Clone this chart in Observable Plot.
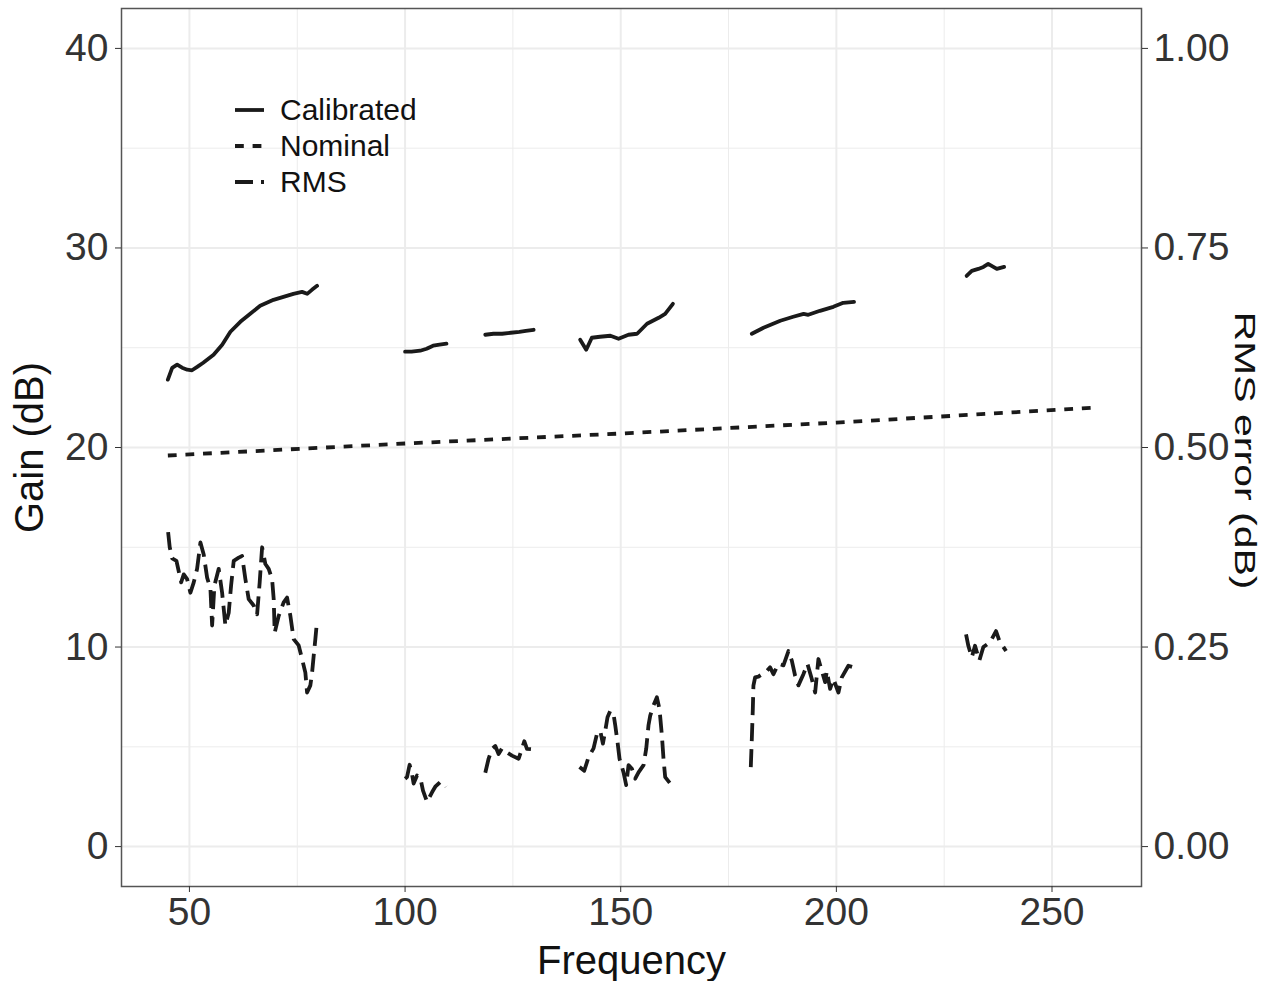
<!DOCTYPE html>
<html>
<head>
<meta charset="utf-8">
<script src="https://cdn.jsdelivr.net/npm/d3@7"></script>
<script src="https://cdn.jsdelivr.net/npm/@observablehq/plot@0.6"></script>
<style>
  html, body { margin: 0; padding: 0; background: #fff; }
  #wrap { position: relative; width: 1281px; height: 981px; font-family: "Liberation Sans", Arial, sans-serif; }
  #legend { position: absolute; left: 235px; top: 92px; }
  .row { display: flex; align-items: center; height: 36px; line-height: 36px; font-size: 30px; color: #111; }
  .row svg { margin-right: 16px; }
</style>
</head>
<body>
<div id="wrap"></div>
<script>
// ---- data ----
const xTicks = [50, 100, 150, 200, 250];
const xMinor = [75, 125, 175, 225];
const yTicks = [0, 10, 20, 30, 40];
const yMinor = [5, 15, 25, 35];
const rmsTicks = [0, 0.25, 0.5, 0.75, 1.0];
const rmsScale = 40; // secondary axis: RMS error * 40 = gain axis units

const seriesNames = ["Calibrated", "Nominal", "RMS"];

const calFreq = [45, 46, 47.15, 48.3, 49.5, 50.6, 51.8, 53.2, 55.6, 57.6, 59.5, 61.8, 64.1, 66.4, 69.5, 71.8, 74.1, 76.1, 77.3, 78.4, 79.6,
  100, 101.5, 103.5, 105, 106.5, 108, 109.6,
  118.6, 120.5, 122.5, 124.5, 126.5, 128, 129.8,
  140.6, 142, 143.3, 145.2, 147.6, 149.5, 151.8, 153.8, 156.1, 158.8, 160.3, 162.1,
  180.4, 183.1, 187, 190, 192.4, 193.5, 196.2, 199.3, 201.6, 204.1,
  230.2, 231.4, 232.9, 234.1, 235.2, 237.2, 238.9];
const calGain = [23.4, 23.99, 24.15, 24.0, 23.9, 23.87, 24.04, 24.25, 24.65, 25.15, 25.8, 26.3, 26.7, 27.1, 27.4, 27.55, 27.7, 27.8, 27.7, 27.9, 28.1,
  24.8, 24.8, 24.85, 24.95, 25.1, 25.15, 25.2,
  25.65, 25.7, 25.7, 25.75, 25.8, 25.85, 25.9,
  25.4, 24.9, 25.5, 25.55, 25.6, 25.45, 25.65, 25.7, 26.2, 26.5, 26.7, 27.2,
  25.7, 26.0, 26.35, 26.55, 26.7, 26.65, 26.85, 27.05, 27.25, 27.3,
  28.6, 28.85, 28.95, 29.05, 29.2, 28.95, 29.05];

const nomFreq = [45, 100, 150, 200, 260];
const nomGain = [19.6, 20.2, 20.7, 21.25, 22.0];

const rmsFreq = [45.06, 45.43, 45.99, 46.99, 47.52, 48.08, 48.68, 49.47, 50.23, 51.0, 51.78, 52.55, 53.31, 54.1, 54.87, 55.26, 55.79, 56.79, 57.58, 58.34,
  59.11, 59.66, 60.27, 61.43, 62.21, 62.98, 63.74, 64.9, 65.69, 66.29, 66.85, 67.61, 68.38, 69.17, 69.54, 69.77, 70.7, 71.85, 72.64, 73.41,
  74.17, 75.33, 76.12, 76.88, 77.28, 78.04, 78.44, 78.81, 79.2, 79.59,
  100.0, 100.45, 101.05, 101.6, 101.98, 102.77, 103.5, 104.16, 105.09, 106.25, 107.0, 108.17, 108.93, 109.5,
  118.6, 119.36, 120.15, 120.92, 121.68, 122.47, 123.63, 124.79, 126.32, 127.1, 127.64, 128.26, 129.19,
  140.45, 141.54, 142.54, 143.7, 144.48, 145.25, 145.87, 146.41, 146.94, 147.57, 148.33, 148.73, 149.26, 149.72, 150.65, 151.27, 151.81,
  152.6, 153.36, 154.13, 155.29, 155.91, 156.44, 156.84, 157.6, 158.39, 158.99, 159.55, 159.92, 160.31, 161.47, 162.24,
  180.16, 180.4, 180.63, 180.77, 181.16, 181.93, 183.88, 184.64, 185.41, 186.57, 187.73, 188.89, 189.67, 190.44, 191.2, 192.36, 193.29,
  194.31, 195.08, 195.84, 196.63, 197.4, 197.79, 198.55, 199.32, 200.48, 201.26, 202.79, 203.95,
  230.07, 230.6, 231.39, 232.15, 233.15, 234.08, 235.63, 237.02, 237.79, 239.34];
const rmsErr = [0.394, 0.375, 0.361, 0.358, 0.345, 0.331, 0.341, 0.335, 0.318, 0.331, 0.348, 0.381, 0.366, 0.337, 0.323, 0.277, 0.327, 0.348, 0.318, 0.277,
  0.293, 0.327, 0.358, 0.362, 0.364, 0.335, 0.31, 0.302, 0.291, 0.331, 0.375, 0.354, 0.348, 0.335, 0.31, 0.268, 0.289, 0.306, 0.312, 0.289,
  0.26, 0.252, 0.235, 0.218, 0.193, 0.202, 0.218, 0.239, 0.26, 0.283,
  0.085, 0.087, 0.1025, 0.091, 0.079, 0.089, 0.087, 0.070, 0.056, 0.068, 0.075, 0.081, 0.079, 0.075,
  0.0925, 0.11, 0.1225, 0.126, 0.116, 0.123, 0.118, 0.114, 0.11, 0.1225, 0.132, 0.1225, 0.122,
  0.0996, 0.095, 0.112, 0.123, 0.141, 0.145, 0.129, 0.145, 0.162, 0.170, 0.166, 0.152, 0.131, 0.11, 0.093, 0.077, 0.102,
  0.0975, 0.085, 0.093, 0.102, 0.1225, 0.152, 0.164, 0.177, 0.187, 0.1725, 0.139, 0.11, 0.087, 0.079, 0.087,
  0.0996, 0.135, 0.1725, 0.2016, 0.212, 0.213, 0.220, 0.2246, 0.216, 0.229, 0.227, 0.245, 0.233, 0.214, 0.202, 0.216, 0.229,
  0.21, 0.193, 0.235, 0.220, 0.206, 0.220, 0.1975, 0.21, 0.193, 0.212, 0.2266, 0.2246,
  0.266, 0.2516, 0.237, 0.2516, 0.233, 0.25, 0.256, 0.27, 0.258, 0.245];

// ---- build tables ----
function segIds(freqs) {
  let s = 0;
  return freqs.map((f, i) => (i > 0 && f - freqs[i - 1] > 5 ? ++s : s));
}
const calSeg = segIds(calFreq);
const rmsSeg = segIds(rmsFreq);
const calibrated = calFreq.map((f, i) => ({f, v: calGain[i], s: calSeg[i]}));
const nominal = nomFreq.map((f, i) => ({f, v: nomGain[i]}));
const rms = rmsFreq.map((f, i) => ({f, v: rmsErr[i] * rmsScale, s: rmsSeg[i]}));

const FONT = "'Liberation Sans', Arial, sans-serif";
const LW = 3.8;
const dashNominal = "8.8,8.8";
const dashRMS = "18,8";

const gridColor = "#ececec";
const axisColor = "#333333";
const rightTitle = "RMS error (dB)";

const plot = Plot.plot({
  width: 1281,
  height: 981,
  marginLeft: 121,
  marginRight: 140,
  marginTop: 8,
  marginBottom: 95,
  style: {fontFamily: FONT, background: "#fff", overflow: "visible"},
  x: {domain: [34.25, 270.75]},
  y: {domain: [-2, 42]},
  marks: [
    Plot.gridX(xMinor, {stroke: gridColor, strokeOpacity: 1, strokeWidth: 1}),
    Plot.gridY(yMinor, {stroke: gridColor, strokeOpacity: 1, strokeWidth: 1}),
    Plot.gridX(xTicks, {stroke: gridColor, strokeOpacity: 1, strokeWidth: 2}),
    Plot.gridY(yTicks, {stroke: gridColor, strokeOpacity: 1, strokeWidth: 2}),
    Plot.line(nominal, {x: "f", y: "v", stroke: "#1a1a1a", strokeWidth: LW, strokeDasharray: dashNominal, strokeLinecap: "butt"}),
    Plot.line(calibrated, {x: "f", y: "v", z: "s", stroke: "#1a1a1a", strokeWidth: LW, curve: "linear"}),
    Plot.line(rms, {x: "f", y: "v", z: "s", stroke: "#1a1a1a", strokeWidth: LW, strokeDasharray: dashRMS, strokeLinecap: "butt"}),
    Plot.frame({stroke: "#555", strokeWidth: 1.5}),
    Plot.axisX(xTicks, {anchor: "bottom", tickSize: 6, tickPadding: 5, fontSize: 39, color: axisColor, label: null, tickFormat: d => String(d)}),
    Plot.axisY(yTicks, {anchor: "left", tickSize: 6, tickPadding: 7, fontSize: 39, color: axisColor, label: null, tickFormat: d => String(d)}),
    Plot.axisY(rmsTicks.map(t => t * rmsScale), {anchor: "right", tickSize: 6, tickPadding: 6, fontSize: 39, color: axisColor, label: null, tickFormat: d => (d / rmsScale).toFixed(2)}),
    Plot.text(["Frequency"], {frameAnchor: "bottom", lineAnchor: "bottom", textAnchor: "middle", dy: 87, fontSize: 40, fill: "#111", text: d => d}),
    Plot.text(["Gain (dB)"], {frameAnchor: "left", lineAnchor: "middle", textAnchor: "middle", dx: -91, rotate: -90, fontSize: 40, fill: "#111", text: d => d}),
    Plot.text([rightTitle], {frameAnchor: "right", lineAnchor: "middle", textAnchor: "middle", dx: 103, dy: 3, rotate: 90, fontSize: 30, fill: "#111", text: d => d})
  ]
});

// the right-hand title in the reference is drawn with elongated glyphs
d3.select(plot).selectAll("text")
  .filter(function () { return this.textContent === rightTitle; })
  .attr("textLength", 278)
  .attr("lengthAdjust", "spacingAndGlyphs");

const wrap = document.getElementById("wrap");
wrap.appendChild(plot);

// ---- legend (inside the panel, top-left) ----
const legend = document.createElement("div");
legend.id = "legend";
const keyDash = {Calibrated: null, Nominal: dashNominal, RMS: dashRMS};
for (const name of seriesNames) {
  const row = document.createElement("div");
  row.className = "row";
  const dash = keyDash[name];
  row.innerHTML = `<svg width="29" height="36"><line x1="0" x2="29" y1="18" y2="18" stroke="#1a1a1a" stroke-width="${LW}" ${dash ? `stroke-dasharray="${dash}"` : ""}/></svg><span>${name}</span>`;
  legend.appendChild(row);
}
wrap.appendChild(legend);
</script>
</body>
</html>
